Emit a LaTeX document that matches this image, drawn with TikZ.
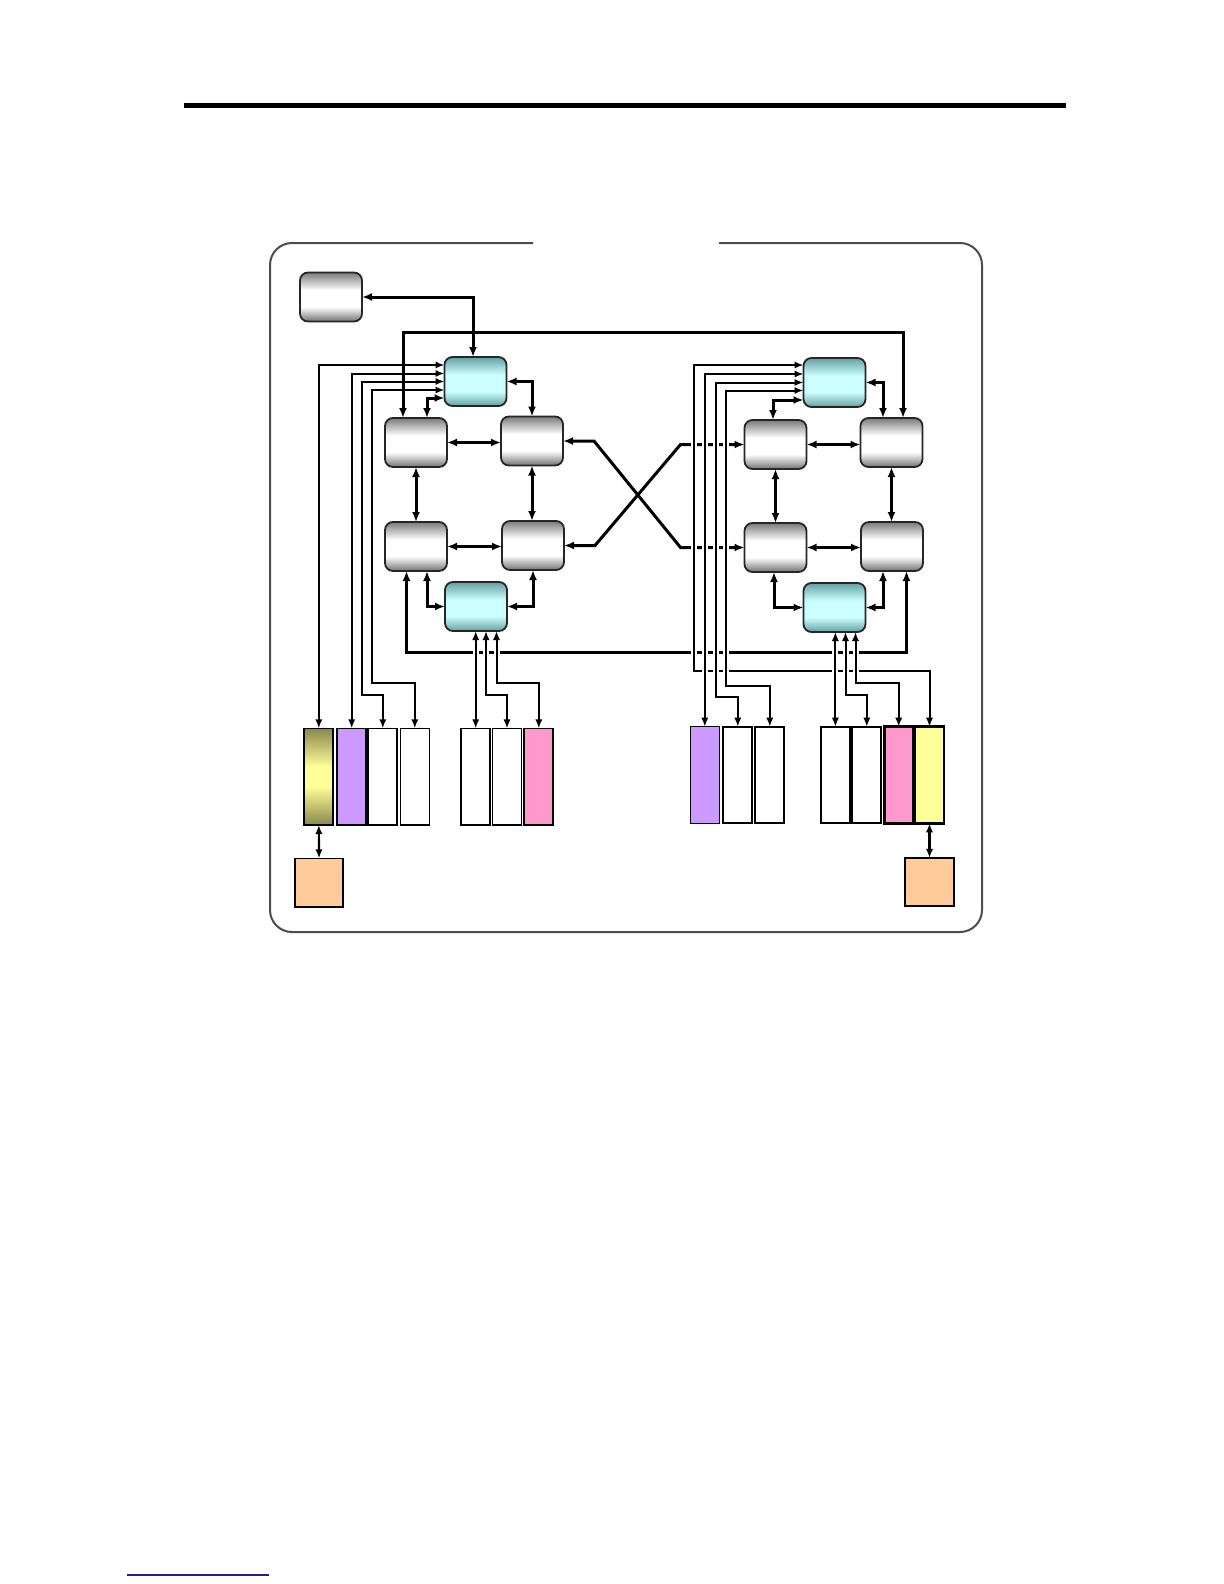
\documentclass[tikz,border=0pt]{standalone}
\usetikzlibrary{arrows.meta,calc}
\pgfdeclarelayer{conn}
\pgfsetlayers{conn,main}
\definecolor{cyandark}{RGB}{100,160,160}
\definecolor{cyanlight}{RGB}{204,255,255}
\definecolor{barpurple}{HTML}{CC99FF}
\definecolor{barpink}{HTML}{FF99CC}
\definecolor{baryellow}{HTML}{FFFF99}
\definecolor{barorange}{HTML}{FFCC99}
\definecolor{olivedark}{RGB}{138,136,78}
\definecolor{linkblue}{RGB}{30,30,140}
\pgfdeclareverticalshading{grayshade}{100bp}{color(0bp)=(black!55); color(25bp)=(black!55);
  color(40bp)=(white); color(57bp)=(white); color(75bp)=(black!52); color(100bp)=(black!52)}
\pgfdeclareverticalshading{cyanshade}{100bp}{color(0bp)=(cyandark); color(25bp)=(cyandark);
  color(40bp)=(cyanlight); color(57bp)=(cyanlight); color(75bp)=(cyandark); color(100bp)=(cyandark)}
\pgfdeclareverticalshading{oliveshade}{100bp}{color(0bp)=(olivedark); color(25bp)=(olivedark);
  color(45bp)=(baryellow); color(55bp)=(baryellow); color(75bp)=(olivedark); color(100bp)=(olivedark)}
\begin{document}
\begin{tikzpicture}[x=0.5pt,y=-0.5pt,
  graybox/.style={draw=black!85, line width=0.9pt, rounded corners=4pt,
    minimum width=31pt, minimum height=24.5pt, inner sep=0pt, outer sep=0pt,
    shading=grayshade},
  cyanbox/.style={graybox, shading=cyanshade},
  bar/.style={draw=black, line width=0.9pt, minimum width=14.5pt, minimum height=48.3pt,
    inner sep=0pt, outer sep=0pt},
  sqbox/.style={draw=black, line width=0.9pt, fill=barorange, minimum width=24.2pt,
    minimum height=24.1pt, inner sep=0pt, outer sep=0pt},
  thk/.style={line width=1.5pt, {Latex[length=5pt,width=4pt]}-{Latex[length=5pt,width=4pt]}},
  mid/.style={line width=1.1pt, {Latex[length=4.5pt,width=3.6pt]}-{Latex[length=4.5pt,width=3.6pt]}},
  thn/.style={line width=1pt, {Latex[length=4.5pt,width=3.6pt]}-{Latex[length=4.5pt,width=3.6pt]},
    preaction={draw=white, line width=3pt, -}},
]
\useasboundingbox (0,0) rectangle (1224,1584);

% page decorations
\fill[black] (184,103.3) rectangle (1066,107.7);
\draw[linkblue, line width=0.7pt] (127,1575) -- (269,1575);

% ---------- left cluster ----------
\node[graybox] (ctl) at (331,297) {};
\node[cyanbox] (Lct) at (475.5,381.5) {};
\node[graybox] (LTL) at (416,442.5) {};
\node[graybox] (LTR) at (532,441) {};
\node[graybox] (LBL) at (416,546.5) {};
\node[graybox] (LBR) at (533,545.5) {};
\node[cyanbox] (Lcb) at (476,606.5) {};

% ---------- right cluster ----------
\node[cyanbox] (Rct) at (834.5,382.5) {};
\node[graybox] (RTL) at (775.5,444.5) {};
\node[graybox] (RTR) at (891.5,442.5) {};
\node[graybox] (RBL) at (775.5,547.5) {};
\node[graybox] (RBR) at (892,546.5) {};
\node[cyanbox] (Rcb) at (834.5,607.5) {};

% ---------- left bars ----------
\node[bar, shading=oliveshade] (b1) at (318.8,776.7) {};
\node[bar, fill=barpurple] (b2) at (351.7,776.7) {};
\node[bar, fill=white] (b3) at (382.8,776.7) {};
\node[bar, fill=white, line width=0.6pt] (b4) at (414.8,776.7) {};
\node[bar, fill=white] (b5) at (475.7,776.7) {};
\node[bar, fill=white] (b6) at (507,776.7) {};
\node[bar, fill=barpink] (b7) at (538.8,776.7) {};
\node[sqbox] (oL) at (319,882.5) {};

% ---------- right bars ----------
\node[bar, fill=barpurple, line width=0.6pt] (rp) at (704.8,775) {};
\node[bar, fill=white] (rw1) at (737.8,775) {};
\node[bar, fill=white] (rw2) at (769.8,775) {};
\node[bar, fill=white] (rw3) at (835.4,775) {};
\node[bar, fill=white] (rw4) at (866.8,775) {};
\node[bar, fill=barpink, line width=1.3pt] (rpk) at (898.7,775) {};
\node[bar, fill=baryellow, line width=1.3pt] (ry) at (929.5,775) {};
\node[sqbox] (oR) at (929.5,882) {};

\begin{pgfonlayer}{conn}
% frame
\draw[black!70, line width=1pt, rounded corners=11pt]
  (533,243) -- (270,243) -- (270,932) -- (982,932) -- (982,243) -- (719,243);

% thick connectors, left
\draw[thk] (ctl.east) -| ($(Lct.north)+(-2.5,0)$);
\draw[thk] ($(LTL.north)+(11,0)$) |- ($(Lct.west)+(0,16.5)$);
\draw[thk] (Lct.east) -| (LTR.north);
\draw[thk] (LTL.east) -- (LTL.east -| LTR.west);
\draw[thk] (LBL.east) -- (LBL.east -| LBR.west);
\draw[thk] (LTL.south) -- (LBL.north);
\draw[thk] (LTR.south) -- (LTR.south |- LBR.north);
\draw[thk] (Lcb.west) -| ($(LBL.south)+(11,0)$);
\draw[thk] (Lcb.east) -| (LBR.south);
\draw[thk] ($(LBL.south)+(-9.5,0)$) -- ++(0,81) -| ($(RBR.south)+(14.5,0)$);

% crossover
\draw[thk] (LTR.east) -- ($(LTR.east)+(31,0)$) -- ($(RBL.west)+(-64,0)$) -- (RBL.west);
\draw[thk] (LBR.east) -- ($(LBR.east)+(31,0)$) -- ($(RTL.west)+(-64,0)$) -- (RTL.west);

% thick connectors, right
\draw[thk] ($(RTL.north)+(-2.5,0)$) |- ($(Rct.west)+(0,17.5)$);
\draw[thk] (Rct.east) -| ($(RTR.north)+(-8.5,0)$);
\draw[thk] (RTL.east) -- (RTL.east -| RTR.west);
\draw[thk] (RBL.east) -- (RBL.east -| RBR.west);
\draw[thk] (RTL.south) -- (RBL.north);
\draw[thk] (RTR.south) -- (RTR.south |- RBR.north);
\draw[thk] (Rcb.west) -| ($(RBL.south)+(-1.5,0)$);
\draw[thk] (Rcb.east) -| ($(RBR.south)+(-9,0)$);

% bar to square
\draw[mid] (b1.south) -- (oL.north);
\draw[mid] (ry.south) -- (oR.north);

% thin feeds, right (yellow first)
\draw[thn] (ry.north) |- (694,670.7) |- ($(Rct.west)+(0,-17.5)$);
\draw[thn] (rp.north) |- ($(Rct.west)+(0,-8.5)$);
\draw[thn] (rw1.north) |- (715.7,696.7) |- (Rct.west);
\draw[thn] (rw2.north) |- (726,686) |- ($(Rct.west)+(0,8)$);
\draw[thn] (rw3.north) -- (rw3.north |- Rcb.south);
\draw[thn] (rw4.north) |- ($(Rcb.south)+(11,63)$) -- ($(Rcb.south)+(11,0)$);
\draw[thn] (rpk.north) |- ($(Rcb.south)+(21,50.7)$) -- ($(Rcb.south)+(21,0)$);

% thin feeds, left
\draw[thn] (b1.north) |- ($(Lct.west)+(0,-16.5)$);
\draw[thn] (b2.north) |- ($(Lct.west)+(0,-8)$);
\draw[thn] (b3.north) |- (361.7,695) |- (Lct.west);
\draw[thn] (b4.north) |- (372.3,683.3) |- ($(Lct.west)+(0,8.5)$);
\draw[thn] (b5.north) -- (b5.north |- Lcb.south);
\draw[thn] (b6.north) |- ($(Lcb.south)+(10,64)$) -- ($(Lcb.south)+(10,0)$);
\draw[thn] (b7.north) |- ($(Lcb.south)+(20.5,52.3)$) -- ($(Lcb.south)+(20.5,0)$);

% long top connector, drawn over the feeds
\draw[thk] ($(LTL.north)+(-13,0)$) -- ++(0,-86) -| ($(RTR.north)+(11.5,0)$);
\end{pgfonlayer}
\end{tikzpicture}
\end{document}
